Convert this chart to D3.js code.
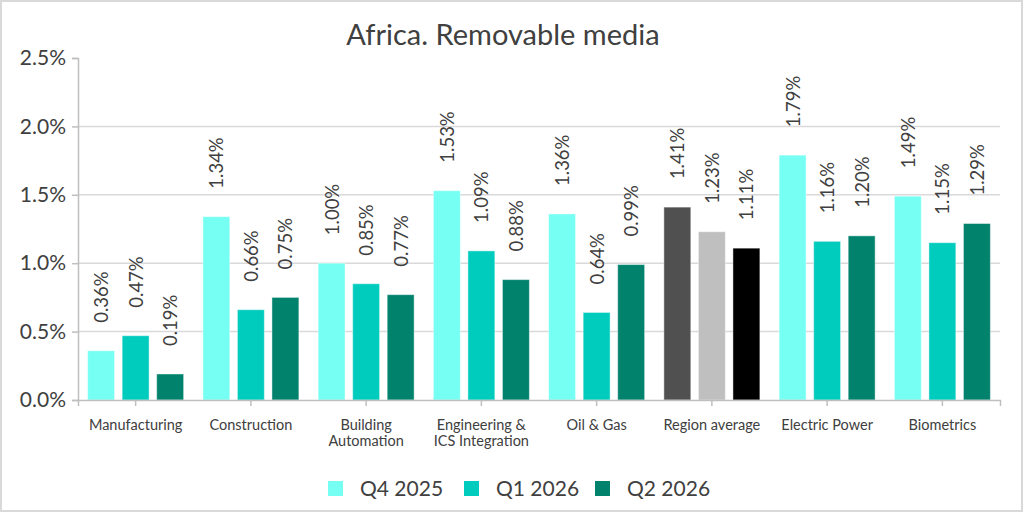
<!DOCTYPE html>
<html>
<head>
<meta charset="utf-8">
<script src="https://cdn.jsdelivr.net/npm/d3@7"></script>
<style>
  body { margin: 0; background: #fff; }
  text { font-family: Lato, "Noto Sans", sans-serif; fill: #404040; }
</style>
</head>
<body>
<div class="chart"></div>
<script>
// chart data
var categories = ["Manufacturing", "Construction", "Building\nAutomation", "Engineering &\nICS Integration",
                  "Oil & Gas", "Region average", "Electric Power", "Biometrics"];
var seriesNames = ["Q4 2025", "Q1 2026", "Q2 2026"];
var q4_2025 = [0.36, 1.34, 1.00, 1.53, 1.36, 1.41, 1.79, 1.49];
var q1_2026 = [0.47, 0.66, 0.85, 1.09, 0.64, 1.23, 1.16, 1.15];
var q2_2026 = [0.19, 0.75, 0.77, 0.88, 0.99, 1.11, 1.20, 1.29];
var yTicks = [0, 0.5, 1.0, 1.5, 2.0, 2.5];

var colors = ["#76FFF3", "#00CCBE", "#00826C"];
var avgColors = ["#505050", "#BFBFBF", "#000000"];

var W = 1024, H = 513;
var margin = {top: 58, right: 24, bottom: 113, left: 78},
    width = W - margin.left - margin.right,
    height = H - margin.top - margin.bottom;

var data = categories.map(function(c, i) {
  return {cat: c, vals: [q4_2025[i], q1_2026[i], q2_2026[i]]};
});

var svg = d3.select(".chart").append("svg")
    .attr("width", W)
    .attr("height", H);

// outer frame
svg.append("rect")
    .attr("x", 1).attr("y", 1)
    .attr("width", W - 3).attr("height", H - 3)
    .attr("fill", "#fff")
    .attr("stroke", "#d9d9d9")
    .attr("stroke-width", 2);

svg.append("text")
    .attr("x", 503).attr("y", 45)
    .attr("text-anchor", "middle")
    .style("font-size", "29px")
    .text("Africa. Removable media");

var g = svg.append("g")
    .attr("transform", "translate(" + margin.left + "," + margin.top + ")");

var x0 = d3.scaleBand().domain(categories).range([0, width]);
var x1 = d3.scaleBand().domain(seriesNames).range([0, 96]).paddingInner(0.22);
var y = d3.scaleLinear().domain([0, 2.5]).range([height, 0]);

// gridlines
g.append("g").selectAll("line")
    .data(yTicks.filter(function(t) { return t > 0 && t < 2.5; }))
  .enter().append("line")
    .attr("x1", 0).attr("x2", width)
    .attr("y1", function(d) { return y(d); })
    .attr("y2", function(d) { return y(d); })
    .attr("stroke", "#d9d9d9")
    .attr("stroke-width", 1.5);

// y axis
var yAxis = g.append("g")
    .call(d3.axisLeft(y).tickValues(yTicks).tickSize(6).tickPadding(6)
      .tickFormat(function(d) { return d3.format(".1f")(d) + "%"; }));
yAxis.selectAll("path, line").attr("stroke", "#bfbfbf").attr("stroke-width", 1.5);
yAxis.selectAll("text").style("font-size", "21px").attr("fill", "#404040");

// bars
var groups = g.selectAll(".grp")
    .data(data)
  .enter().append("g")
    .attr("transform", function(d) {
      return "translate(" + (x0(d.cat) + (x0.bandwidth() - 96) / 2) + ",0)";
    });

groups.selectAll("rect")
    .data(function(d, i) {
      return d.vals.map(function(v, j) {
        return {s: seriesNames[j], v: v, c: d.cat === "Region average" ? avgColors[j] : colors[j]};
      });
    })
  .enter().append("rect")
    .attr("x", function(d) { return x1(d.s); })
    .attr("y", function(d) { return y(d.v); })
    .attr("width", x1.bandwidth())
    .attr("height", function(d) { return height - y(d.v); })
    .attr("fill", function(d) { return d.c; })
    .attr("stroke", "#fff")
    .attr("stroke-opacity", 0.45);

// rotated value labels
groups.selectAll(".lbl")
    .data(function(d) {
      return d.vals.map(function(v, j) { return {s: seriesNames[j], v: v}; });
    })
  .enter().append("text")
    .attr("transform", function(d) {
      return "translate(" + (x1(d.s) + x1.bandwidth() / 2) + "," + (y(d.v) - 28) + ") rotate(-90)";
    })
    .attr("dominant-baseline", "central")
    .style("font-size", "18.5px")
    .text(function(d) { return d.v.toFixed(2) + "%"; });

// x axis
var xAxis = g.append("g")
    .attr("transform", "translate(0," + height + ")")
    .call(d3.axisBottom(x0).tickSize(6).tickFormat(""));
xAxis.selectAll("path, line").attr("stroke", "#bfbfbf").attr("stroke-width", 1.5);

xAxis.selectAll(".tick").append("text")
    .attr("text-anchor", "middle")
    .style("font-size", "14.5px")
    .each(function(d) {
      var lines = d.split("\n");
      d3.select(this).selectAll("tspan")
          .data(lines)
        .enter().append("tspan")
          .attr("x", 0)
          .attr("y", function(l, i) { return 30 + i * 16; })
          .text(function(l) { return l; });
    });

// legend
var legendX = [328, 464, 595];
var legend = svg.append("g").selectAll("g")
    .data(seriesNames)
  .enter().append("g")
    .attr("transform", function(d, i) { return "translate(" + legendX[i] + ",481)"; });
legend.append("rect")
    .attr("width", 15).attr("height", 15)
    .attr("fill", function(d, i) { return colors[i]; });
legend.append("text")
    .attr("x", 32).attr("y", 15)
    .style("font-size", "21px")
    .text(function(d) { return d; });
</script>
</body>
</html>
